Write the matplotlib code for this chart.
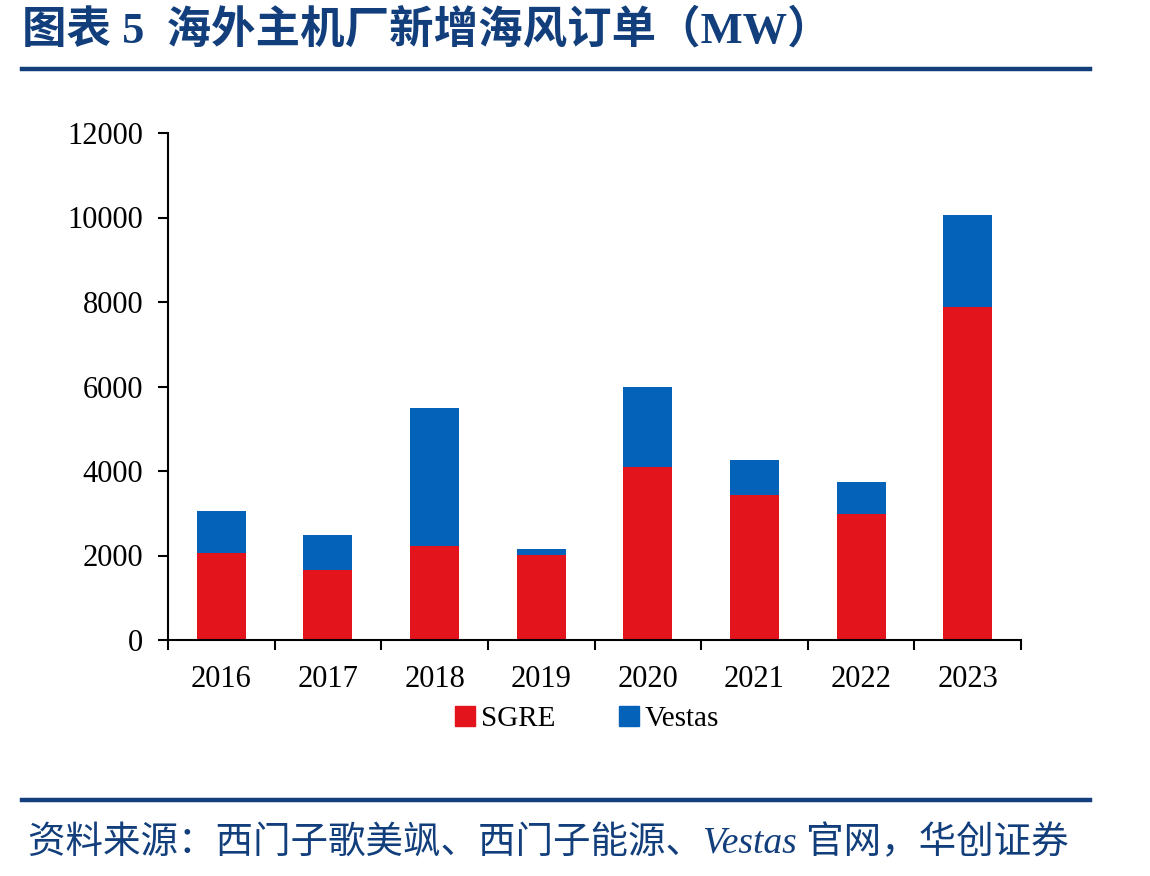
import matplotlib
matplotlib.use("Agg")
import matplotlib.pyplot as plt
from matplotlib.patches import Patch
from matplotlib.lines import Line2D

years = ["2016", "2017", "2018", "2019", "2020", "2021", "2022", "2023"]
sgre = [2050, 1650, 2220, 2010, 4090, 3430, 2990, 7870]
vestas = [1010, 830, 3270, 140, 1900, 840, 750, 2180]
yticks = [0, 2000, 4000, 6000, 8000, 10000, 12000]

RED = "#E4141D"
BLUE = "#0462B8"
NAVY = "#123F7C"

plt.rcParams['font.family'] = ['Liberation Serif', 'Noto Sans CJK SC']

W, H = 1150, 876
fig = plt.figure(figsize=(W / 100, H / 100), dpi=100)

def fx(px):
    return px / W

def fy(py):
    return 1 - py / H

ax = fig.add_axes([fx(168), fy(640), fx(1021 - 168), (640 - 133) / H])
x = list(range(len(years)))
ax.bar(x, sgre, width=0.46, color=RED, zorder=2)
ax.bar(x, vestas, width=0.46, bottom=sgre, color=BLUE, zorder=2)
ax.set_xlim(-0.5, len(years) - 0.5)
ax.set_ylim(0, 12000)
ax.set_yticks(yticks)
ax.set_yticklabels([str(v) for v in yticks], fontsize=22)
ax.set_xticks([i + 0.5 for i in range(-1, len(years))])
ax.set_xticklabels([])
ax.set_xticks(x, minor=True)
ax.set_xticklabels(years, minor=True, fontsize=22)
ax.tick_params(axis='x', which='minor', length=0, pad=18)
ax.tick_params(axis='x', which='major', direction='out', length=7, width=1.5)
ax.tick_params(axis='y', direction='out', length=7, width=1.5, pad=11)
for s in ['top', 'right']:
    ax.spines[s].set_visible(False)
for s in ['left', 'bottom']:
    ax.spines[s].set_linewidth(1.5)

handles = [Patch(facecolor=RED, edgecolor=RED), Patch(facecolor=BLUE, edgecolor=BLUE)]
fig.legend(handles, ["SGRE", "Vestas"], loc='center', bbox_to_anchor=(fx(587), fy(719)),
           ncol=2, frameon=False, fontsize=21, handlelength=0.68, handleheight=0.68,
           handletextpad=0.2, columnspacing=2.2)

fig.text(fx(22), fy(30), "图表 5  海外主机厂新增海风订单（MW）", fontsize=32, fontweight='bold',
         color=NAVY, va='center', ha='left', family=['Liberation Serif', 'Noto Sans CJK SC'])
fig.add_artist(Line2D([fx(22), fx(1090)], [fy(69), fy(69)], color=NAVY, lw=3.2))
fig.add_artist(Line2D([fx(22), fx(1090)], [fy(800), fy(800)], color=NAVY, lw=3.2))
fig.text(fx(28), fy(843), "资料来源：西门子歌美飒、西门子能源、Vestas 官网，华创证券", fontsize=27,
         color=NAVY, va='center', ha='left', style='italic',
         family=['Liberation Serif', 'Noto Sans CJK SC'])

fig.savefig("out.png", dpi=100)
